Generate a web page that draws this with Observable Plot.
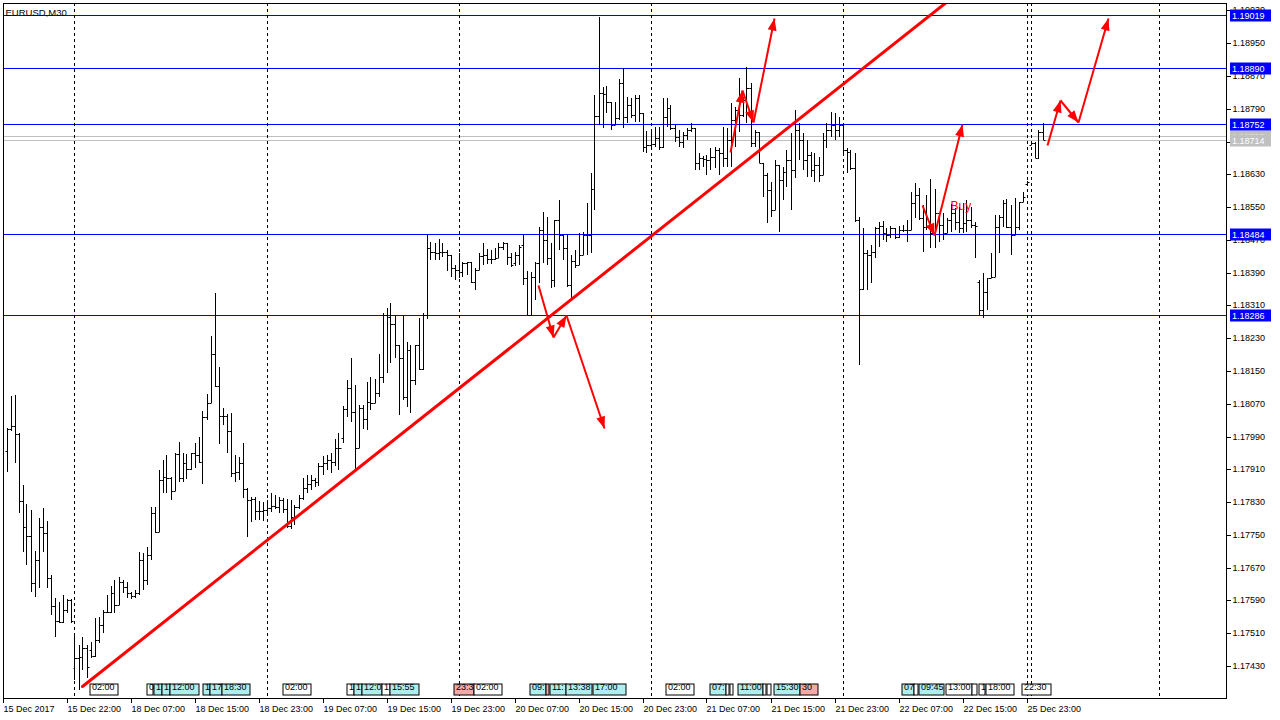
<!DOCTYPE html>
<html><head><meta charset="utf-8">
<script src="https://cdn.jsdelivr.net/npm/d3@7"></script>
<script src="https://cdn.jsdelivr.net/npm/@observablehq/plot@0.6"></script>
<style>
html,body{margin:0;padding:0;background:#fff;}
#chart{position:absolute;left:0;top:0;}
</style></head><body><div id="chart"></div>
<script>
// ---- EURUSD M30 OHLC bars (bar index 0..259) ----
const open = [
1.17955,1.18008,1.18016,1.17996,1.17833,1.17769,1.17747,1.17632,1.17689,1.17769,
1.17754,1.17645,1.17576,1.17540,1.17537,1.17567,1.17591,1.17425,1.17449,1.17452,
1.17474,1.17469,1.17454,1.17493,1.17530,1.17562,1.17562,1.17608,1.17579,1.17635,
1.17623,1.17608,1.17601,1.17608,1.17689,1.17640,1.17701,1.17803,1.17757,1.17884,
1.17891,1.17889,1.17857,1.17947,1.17889,1.17925,1.17911,1.17950,1.17945,1.17928,
1.18038,1.18072,1.18191,1.18113,1.18040,1.18040,1.18003,1.17901,1.17903,1.17925,
1.17862,1.17835,1.17837,1.17808,1.17808,1.17811,1.17815,1.17820,1.17818,1.17835,
1.17813,1.17772,1.17794,1.17818,1.17840,1.17864,1.17874,1.17884,1.17879,1.17918,
1.17925,1.17933,1.17928,1.17962,1.17986,1.18057,1.18108,1.18050,1.17962,1.18059,
1.18033,1.18074,1.18072,1.18096,1.18135,1.18286,1.18282,1.18264,1.18213,1.18181,
1.18086,1.18201,1.18128,1.18213,1.18155,1.18286,1.18450,1.18440,1.18438,1.18440,
1.18440,1.18433,1.18401,1.18396,1.18391,1.18413,1.18416,1.18367,1.18396,1.18430,
1.18433,1.18423,1.18423,1.18425,1.18452,1.18462,1.18428,1.18413,1.18433,1.18457,
1.18377,1.18286,1.18379,1.18413,1.18494,1.18469,1.18425,1.18372,1.18518,1.18482,
1.18450,1.18360,1.18418,1.18408,1.18433,1.18482,1.18482,1.18594,1.18772,1.18828,
1.18826,1.18806,1.18750,1.18767,1.18853,1.18770,1.18799,1.18774,1.18816,1.18779,
1.18696,1.18701,1.18704,1.18718,1.18696,1.18770,1.18791,1.18743,1.18721,1.18709,
1.18726,1.18738,1.18743,1.18657,1.18669,1.18667,1.18665,1.18672,1.18689,1.18682,
1.18669,1.18713,1.18762,1.18787,1.18774,1.18811,1.18840,1.18706,1.18733,1.18657,
1.18628,1.18591,1.18543,1.18652,1.18616,1.18635,1.18665,1.18640,1.18738,1.18713,
1.18665,1.18677,1.18640,1.18652,1.18628,1.18713,1.18738,1.18750,1.18738,1.18750,
1.18689,1.18684,1.18645,1.18518,1.18350,1.18438,1.18433,1.18440,1.18499,1.18504,
1.18486,1.18482,1.18499,1.18477,1.18494,1.18494,1.18494,1.18560,1.18579,1.18523,
1.18501,1.18501,1.18486,1.18535,1.18506,1.18486,1.18518,1.18535,1.18513,1.18499,
1.18511,1.18518,1.18506,1.18367,1.18299,1.18343,1.18377,1.18379,1.18501,1.18526,
1.18560,1.18501,1.18482,1.18501,1.18562,1.18606,1.18701,1.18706,1.18669,1.18733];
const high = [
1.18011,1.18089,1.18091,1.17998,1.17872,1.17825,1.17811,1.17711,1.17791,1.17815,
1.17784,1.17652,1.17596,1.17586,1.17603,1.17593,1.17593,1.17506,1.17481,1.17501,
1.17481,1.17489,1.17547,1.17550,1.17567,1.17603,1.17625,1.17640,1.17647,1.17640,
1.17635,1.17611,1.17615,1.17708,1.17706,1.17720,1.17818,1.17818,1.17908,1.17933,
1.17945,1.17891,1.17950,1.17977,1.17950,1.17947,1.17950,1.17974,1.17989,1.18052,
1.18094,1.18235,1.18340,1.18160,1.18059,1.18045,1.18047,1.17945,1.17940,1.17974,
1.17864,1.17842,1.17842,1.17833,1.17830,1.17835,1.17852,1.17847,1.17842,1.17840,
1.17837,1.17835,1.17823,1.17847,1.17889,1.17896,1.17896,1.17889,1.17925,1.17942,
1.17945,1.17950,1.17984,1.17998,1.18064,1.18128,1.18181,1.18116,1.18067,1.18067,
1.18123,1.18135,1.18130,1.18191,1.18291,1.18303,1.18316,1.18286,1.18213,1.18286,
1.18221,1.18213,1.18213,1.18279,1.18291,1.18482,1.18465,1.18462,1.18472,1.18462,
1.18445,1.18433,1.18408,1.18438,1.18416,1.18416,1.18416,1.18401,1.18438,1.18462,
1.18447,1.18445,1.18450,1.18462,1.18465,1.18462,1.18438,1.18440,1.18457,1.18482,
1.18394,1.18391,1.18416,1.18501,1.18538,1.18526,1.18462,1.18518,1.18567,1.18482,
1.18482,1.18433,1.18445,1.18486,1.18489,1.18560,1.18633,1.18823,1.19014,1.18843,
1.18845,1.18806,1.18806,1.18862,1.18889,1.18818,1.18816,1.18823,1.18823,1.18779,
1.18735,1.18733,1.18745,1.18745,1.18816,1.18816,1.18799,1.18750,1.18738,1.18733,
1.18743,1.18755,1.18743,1.18682,1.18674,1.18677,1.18694,1.18696,1.18694,1.18745,
1.18743,1.18804,1.18794,1.18865,1.18818,1.18892,1.18853,1.18738,1.18733,1.18657,
1.18633,1.18611,1.18665,1.18652,1.18648,1.18689,1.18730,1.18787,1.18755,1.18730,
1.18713,1.18684,1.18682,1.18672,1.18730,1.18755,1.18782,1.18779,1.18770,1.18755,
1.18694,1.18689,1.18682,1.18526,1.18499,1.18445,1.18457,1.18501,1.18513,1.18516,
1.18499,1.18504,1.18499,1.18504,1.18506,1.18518,1.18587,1.18608,1.18596,1.18555,
1.18579,1.18618,1.18594,1.18535,1.18535,1.18523,1.18557,1.18547,1.18550,1.18560,
1.18567,1.18550,1.18513,1.18372,1.18389,1.18377,1.18438,1.18530,1.18530,1.18567,
1.18569,1.18555,1.18572,1.18562,1.18587,1.18613,1.18709,1.18709,1.18738,1.18755];
const low = [
1.17903,1.18003,1.17925,1.17803,1.17708,1.17676,1.17611,1.17598,1.17620,1.17708,
1.17620,1.17554,1.17501,1.17535,1.17535,1.17559,1.17535,1.17396,1.17371,1.17420,
1.17401,1.17449,1.17452,1.17486,1.17510,1.17559,1.17559,1.17559,1.17579,1.17608,
1.17596,1.17593,1.17596,1.17603,1.17615,1.17628,1.17689,1.17754,1.17757,1.17852,
1.17852,1.17835,1.17857,1.17879,1.17879,1.17886,1.17908,1.17913,1.17925,1.17874,
1.18030,1.18072,1.18111,1.17972,1.18018,1.17950,1.17891,1.17879,1.17884,1.17840,
1.17745,1.17781,1.17786,1.17786,1.17784,1.17803,1.17806,1.17813,1.17803,1.17803,
1.17767,1.17764,1.17774,1.17813,1.17835,1.17852,1.17859,1.17867,1.17869,1.17896,
1.17908,1.17901,1.17918,1.17908,1.17974,1.18038,1.18025,1.17908,1.17962,1.18008,
1.18006,1.18055,1.18072,1.18086,1.18120,1.18145,1.18169,1.18181,1.18042,1.18079,
1.18062,1.18047,1.18116,1.18152,1.18152,1.18277,1.18421,1.18421,1.18421,1.18428,
1.18394,1.18379,1.18372,1.18377,1.18379,1.18384,1.18364,1.18347,1.18396,1.18408,
1.18411,1.18411,1.18421,1.18425,1.18445,1.18408,1.18404,1.18406,1.18408,1.18360,
1.18286,1.18284,1.18323,1.18364,1.18413,1.18408,1.18352,1.18355,1.18445,1.18421,
1.18355,1.18323,1.18401,1.18408,1.18433,1.18433,1.18438,1.18543,1.18750,1.18743,
1.18779,1.18738,1.18750,1.18762,1.18743,1.18755,1.18767,1.18757,1.18757,1.18684,
1.18682,1.18689,1.18696,1.18689,1.18694,1.18745,1.18738,1.18709,1.18696,1.18694,
1.18713,1.18733,1.18640,1.18640,1.18648,1.18628,1.18640,1.18645,1.18628,1.18648,
1.18648,1.18648,1.18696,1.18733,1.18770,1.18755,1.18696,1.18696,1.18657,1.18574,
1.18511,1.18526,1.18543,1.18489,1.18567,1.18599,1.18543,1.18621,1.18665,1.18640,
1.18623,1.18623,1.18611,1.18611,1.18628,1.18694,1.18721,1.18713,1.18721,1.18677,
1.18633,1.18640,1.18513,1.18164,1.18347,1.18347,1.18364,1.18425,1.18452,1.18469,
1.18465,1.18474,1.18472,1.18474,1.18489,1.18465,1.18494,1.18523,1.18518,1.18440,
1.18494,1.18450,1.18450,1.18465,1.18469,1.18486,1.18489,1.18494,1.18486,1.18486,
1.18489,1.18499,1.18425,1.18286,1.18279,1.18299,1.18377,1.18379,1.18438,1.18501,
1.18499,1.18433,1.18482,1.18494,1.18562,1.18606,1.18701,1.18669,1.18667,1.18713];
const close = [
1.18008,1.18016,1.17996,1.17833,1.17769,1.17747,1.17632,1.17689,1.17769,1.17754,
1.17645,1.17576,1.17540,1.17537,1.17567,1.17591,1.17540,1.17449,1.17452,1.17474,
1.17428,1.17454,1.17493,1.17530,1.17562,1.17562,1.17608,1.17579,1.17635,1.17623,
1.17608,1.17601,1.17608,1.17689,1.17640,1.17701,1.17803,1.17757,1.17884,1.17891,
1.17889,1.17857,1.17947,1.17889,1.17925,1.17911,1.17950,1.17945,1.17928,1.18038,
1.18072,1.18191,1.18113,1.18040,1.18040,1.18003,1.17901,1.17903,1.17925,1.17862,
1.17835,1.17837,1.17808,1.17808,1.17811,1.17815,1.17820,1.17818,1.17835,1.17813,
1.17772,1.17794,1.17818,1.17840,1.17864,1.17874,1.17884,1.17879,1.17918,1.17925,
1.17933,1.17928,1.17962,1.17962,1.18057,1.18108,1.18050,1.17962,1.18059,1.18033,
1.18074,1.18072,1.18096,1.18135,1.18286,1.18282,1.18264,1.18213,1.18181,1.18086,
1.18201,1.18128,1.18213,1.18155,1.18286,1.18450,1.18440,1.18438,1.18440,1.18440,
1.18433,1.18401,1.18396,1.18391,1.18413,1.18416,1.18367,1.18396,1.18430,1.18433,
1.18423,1.18423,1.18425,1.18452,1.18462,1.18428,1.18408,1.18433,1.18452,1.18377,
1.18286,1.18379,1.18413,1.18494,1.18469,1.18425,1.18372,1.18518,1.18482,1.18450,
1.18360,1.18418,1.18408,1.18433,1.18482,1.18482,1.18594,1.18772,1.18828,1.18826,
1.18806,1.18750,1.18767,1.18853,1.18770,1.18799,1.18774,1.18816,1.18779,1.18696,
1.18701,1.18704,1.18718,1.18696,1.18770,1.18791,1.18743,1.18721,1.18709,1.18726,
1.18738,1.18743,1.18657,1.18669,1.18667,1.18665,1.18672,1.18689,1.18682,1.18669,
1.18713,1.18762,1.18787,1.18774,1.18811,1.18840,1.18706,1.18733,1.18657,1.18628,
1.18591,1.18543,1.18652,1.18616,1.18635,1.18665,1.18640,1.18738,1.18713,1.18665,
1.18677,1.18640,1.18652,1.18628,1.18713,1.18738,1.18750,1.18738,1.18750,1.18689,
1.18684,1.18645,1.18518,1.18350,1.18438,1.18433,1.18440,1.18499,1.18504,1.18486,
1.18482,1.18499,1.18477,1.18494,1.18494,1.18494,1.18560,1.18579,1.18523,1.18501,
1.18501,1.18486,1.18535,1.18506,1.18486,1.18518,1.18535,1.18513,1.18499,1.18511,
1.18518,1.18506,1.18504,1.18299,1.18343,1.18377,1.18379,1.18501,1.18526,1.18560,
1.18501,1.18482,1.18501,1.18562,1.18574,1.18611,1.18706,1.18669,1.18733,1.18714];

// ---- axes ----
const yTicks = [1.17430,1.17510,1.17590,1.17670,1.17750,1.17830,1.17910,1.17990,1.18070,1.18150,
  1.18230,1.18310,1.18390,1.18470,1.18550,1.18630,1.18710,1.18790,1.18870,1.18950,1.19030];
const xTickIdx = [-1,15,31,47,63,79,95,111,127,143,159,175,191,207,223,239,255];
const xTickLabels = ["15 Dec 2017","15 Dec 22:00","18 Dec 07:00","18 Dec 15:00","18 Dec 23:00",
  "19 Dec 07:00","19 Dec 15:00","19 Dec 23:00","20 Dec 07:00","20 Dec 15:00","20 Dec 23:00",
  "21 Dec 07:00","21 Dec 15:00","21 Dec 23:00","22 Dec 07:00","22 Dec 15:00","25 Dec 23:00"];
const daySeparators = [17,65,113,161,209,255,256,288];

// ---- levels ----
const levels = [1.19019,1.18890,1.18752,1.18484,1.18286];
const askBid = [1.18723,1.18714];

// ---- trend line & zigzag arrows ----
const trendIdx = [18.9,240];
const trendPrice = [1.17381,1.19089];
const zigGroup = ["A","A","A","A","B","B","B","B","C","C","C","D","D","D","D"];
const zigIdx = [132.95,136.7,139.9,149.4, 180.9,183.8,186.55,191.9, 228.8,231.95,238.8, 260.05,263.4,267.9,275.4];
const zigPrice = [1.18360,1.18233,1.18286,1.18011, 1.18684,1.18835,1.18757,1.19011, 1.18555,1.18482,1.18752, 1.18701,1.18811,1.18757,1.19011];
const buyLabel = {i: 235.9, price: 1.18552, text: "Buy"};

// ---- event markers at the bottom ----
const eventLabels = ["02:00","0","1","1","12:00","1","17","18:30","02:00","1","1","12:0","1","15:55",
  "23:3","02:00","09:","","11:","13:38","17:00","02:00","07:","","","11:00","","","15:30","30",
  "07","","09:45","13:00","","1","18:00","22:30"];
const eventStart = [20.9,35.1,36.9,38.9,40.9,49.1,50.9,53.9,69.1,85.1,86.9,88.9,93.9,95.9,
  111.9,116.9,130.9,134.9,135.9,139.9,146.6,164.9,175.9,179.9,180.9,182.9,189.1,190.1,191.9,198.4,
  223.9,226.9,228.1,234.9,241.4,243.1,244.9,253.9];
const eventEnd = [27.9,36.6,38.9,40.9,48.1,50.9,53.9,60.9,76.1,86.9,88.9,93.9,95.9,103.1,
  116.9,123.9,134.9,135.6,139.9,146.4,154.9,171.9,179.9,180.6,181.6,189.1,189.9,191.1,198.4,202.9,
  226.9,227.9,234.4,241.4,242.6,244.6,251.9,261.1];
const eventKind = ["w","w","c","c","c","c","c","c","w","w","c","c","w","c",
  "p","w","c","p","c","c","c","w","c","w","w","c","w","w","c","p",
  "c","w","c","w","w","w","w","w"];
const kindFill = {w: "#ffffff", c: "#afeeee", p: "#f4a9a9"};

// ---- build tables ----
const bars = open.map((o, i) => ({i, open: o, high: high[i], low: low[i], close: close[i]}));
const trend = trendIdx.map((x, k) => ({x, y: trendPrice[k]}));
const segs = [];
for (let k = 1; k < zigIdx.length; k++) {
  if (zigGroup[k] === zigGroup[k - 1]) segs.push({x1: zigIdx[k - 1], y1: zigPrice[k - 1], x2: zigIdx[k], y2: zigPrice[k]});
}
const events = eventLabels.map((t, k) => ({t, s: eventStart[k], e: eventEnd[k], fill: kindFill[eventKind[k]]}));
const tickLabelOf = new Map(xTickIdx.map((d, k) => [d, xTickLabels[k]]));

const W = 1280, H = 720, mL = 3, mR = 54, mT = 3, mB = 22;
const FONT = "'Liberation Sans', Arial, sans-serif";
const chart = Plot.plot({
  width: W, height: H,
  marginLeft: mL, marginRight: mR, marginTop: mT, marginBottom: mB,
  style: {fontFamily: FONT, fontSize: "9px", background: "#fff", color: "#000", overflow: "visible"},
  x: {domain: [-0.875, 304.875], round: true, axis: null},
  y: {domain: [1.17352, 1.19048], round: true, axis: null},
  marks: [
    Plot.ruleY(askBid, {stroke: "#c0c0c0", strokeWidth: 1}),
    Plot.ruleY(levels, {stroke: "#0000ff", strokeWidth: 1}),
    Plot.ruleX(daySeparators, {stroke: "#000", strokeWidth: 1, strokeDasharray: "3,3"}),
    Plot.ruleX(bars, {x: "i", y1: "low", y2: "high", stroke: "#000", strokeWidth: 1}),
    Plot.link(bars, {x1: d => d.i - 0.5, x2: "i", y1: "open", y2: "open", stroke: "#000", strokeWidth: 1}),
    Plot.link(bars, {x1: "i", x2: d => d.i + 0.5, y1: "close", y2: "close", stroke: "#000", strokeWidth: 1}),
    Plot.line(trend, {x: "x", y: "y", stroke: "#ff0000", strokeWidth: 3, clip: true}),
    Plot.link(segs, {x1: "x1", y1: "y1", x2: "x2", y2: "y2", stroke: "#ff0000", strokeWidth: 2}),
    Plot.text([buyLabel], {x: "i", y: "price", text: "text", fill: "#ff0000", fontSize: 12, textAnchor: "start"}),
    Plot.rect(events, {x1: "s", x2: "e", fill: "fill", stroke: "#000", strokeWidth: 1, insetTop: 681, insetBottom: 3}),
    Plot.text(events, {x: "s", text: "t", frameAnchor: "bottom", dy: -8.5, dx: 1.5, textAnchor: "start", fill: "#000", fontSize: 9}),
    Plot.text(["EURUSD,M30"], {frameAnchor: "top-left", dx: 2, dy: 6, textAnchor: "start", fill: "#000", fontSize: 9.5}),
    Plot.axisY(yTicks, {anchor: "right", tickSize: 4, tickPadding: 2, tickFormat: d3.format(".5f"), fontSize: 9}),
    Plot.axisX(xTickIdx, {anchor: "bottom", tickSize: 5, tickPadding: 2, textAnchor: "start", tickFormat: d => tickLabelOf.get(d), fontSize: 9}),
    Plot.frame({stroke: "#000", strokeWidth: 1})
  ]
});
document.getElementById("chart").append(chart);

// ---- arrow heads and price tags drawn with the plot's own scales ----
const sx = chart.scale("x"), sy = chart.scale("y");
const svg = d3.select(chart);
const gA = svg.append("g").attr("transform", "translate(0.5,0.5)");
for (const s of segs) {
  const x1 = sx.apply(s.x1), y1 = sy.apply(s.y1), x2 = sx.apply(s.x2), y2 = sy.apply(s.y2);
  const dx = x2 - x1, dy = y2 - y1, len = Math.hypot(dx, dy);
  const ux = dx / len, uy = dy / len, L = 12, Wd = 4.5;
  const bx = x2 - ux * L, by = y2 - uy * L;
  gA.append("polygon")
    .attr("points", `${x2},${y2} ${bx - uy * Wd},${by + ux * Wd} ${bx + uy * Wd},${by - ux * Wd}`)
    .attr("fill", "#ff0000");
}
const tags = [
  ...askBid.map(v => ({v, fill: "#c0c0c0"})),
  ...levels.map(v => ({v, fill: "#0000ff"}))
];
const right = W - mR;
const gT = svg.append("g")
  .attr("font-family", FONT).attr("font-size", 9)
  .attr("text-anchor", "start").style("text-anchor", "start");
for (const t of tags) {
  const y = Math.round(sy.apply(t.v)) + 0.5;
  gT.append("rect").attr("x", right + 4).attr("y", y - 6).attr("width", 41).attr("height", 12).attr("fill", t.fill);
  gT.append("text").attr("x", right + 6).attr("y", y).attr("dy", "0.35em")
    .attr("text-anchor", "start").attr("fill", "#fff").text(d3.format(".5f")(t.v));
}
</script>
</body></html>
